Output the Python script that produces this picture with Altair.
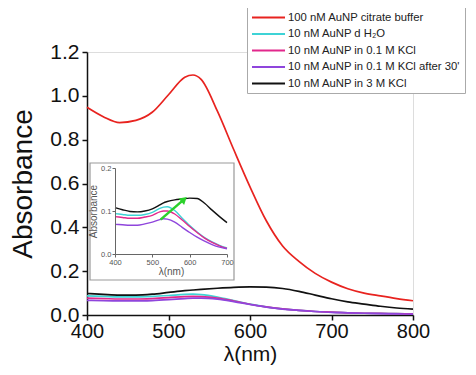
import altair as alt
import pandas as pd

# ---------------- data ----------------
series_names = [
    "100 nM AuNP citrate buffer",
    "10 nM AuNP d H\u2082O",
    "10 nM AuNP in 0.1 M KCl",
    "10 nM AuNP in 0.1 M KCl after 30'",
    "10 nM AuNP in 3 M KCl",
]
series_colors = ["#e8231f", "#3ed3d6", "#e2288c", "#8f45dc", "#111111"]

wl = [400, 420, 440, 460, 480, 500, 520, 530, 540, 560, 580, 600, 620, 640, 660, 680, 700, 720, 740, 760, 780, 800]
red = [0.948, 0.905, 0.878, 0.888, 0.925, 1.005, 1.085, 1.095, 1.075, 0.930, 0.755, 0.585, 0.430, 0.315, 0.245, 0.190, 0.150, 0.120, 0.100, 0.087, 0.075, 0.065]
cyan = [0.087, 0.085, 0.083, 0.083, 0.085, 0.089, 0.094, 0.095, 0.093, 0.082, 0.066, 0.050, 0.037, 0.028, 0.021, 0.016, 0.013, 0.010, 0.008, 0.007, 0.006, 0.005]
magenta = [0.077, 0.075, 0.073, 0.073, 0.075, 0.079, 0.084, 0.085, 0.084, 0.077, 0.064, 0.049, 0.037, 0.028, 0.021, 0.016, 0.013, 0.010, 0.008, 0.007, 0.006, 0.005]
purple = [0.067, 0.065, 0.064, 0.064, 0.066, 0.070, 0.075, 0.077, 0.077, 0.072, 0.061, 0.048, 0.036, 0.027, 0.021, 0.016, 0.012, 0.010, 0.008, 0.006, 0.005, 0.004]
black = [0.098, 0.094, 0.091, 0.091, 0.095, 0.103, 0.111, 0.114, 0.117, 0.122, 0.126, 0.128, 0.127, 0.121, 0.108, 0.091, 0.074, 0.060, 0.050, 0.040, 0.032, 0.027]

# inset (400-700 nm)
wl_in = [400, 420, 440, 460, 480, 500, 520, 530, 540, 560, 580, 600, 620, 640, 660, 680, 700]
cyan_in = [0.094, 0.092, 0.090, 0.090, 0.092, 0.097, 0.106, 0.109, 0.110, 0.101, 0.083, 0.066, 0.051, 0.038, 0.028, 0.020, 0.014]
magenta_in = [0.087, 0.085, 0.083, 0.083, 0.086, 0.090, 0.098, 0.100, 0.100, 0.093, 0.079, 0.064, 0.050, 0.037, 0.027, 0.019, 0.013]
purple_in = [0.069, 0.068, 0.067, 0.067, 0.070, 0.074, 0.080, 0.082, 0.081, 0.074, 0.062, 0.050, 0.039, 0.030, 0.022, 0.016, 0.012]
black_in = [0.108, 0.103, 0.099, 0.098, 0.100, 0.105, 0.114, 0.119, 0.122, 0.126, 0.128, 0.130, 0.129, 0.118, 0.102, 0.087, 0.073]

arrow_x = [522, 585]
arrow_y = [0.080, 0.127]

# ---------------- tables ----------------
main_vals = [red, cyan, magenta, purple, black]
rows = []
for name, vals in zip(series_names, main_vals):
    for i, (x, y) in enumerate(zip(wl, vals)):
        rows.append({"wl": x, "abs": y, "series": name, "order": i})
df_main = pd.DataFrame(rows)

in_vals = [cyan_in, magenta_in, purple_in, black_in]
rows = []
for name, vals in zip(series_names[1:], in_vals):
    for i, (x, y) in enumerate(zip(wl_in, vals)):
        rows.append({"wl": x, "abs": y, "series": name, "order": i})
df_in = pd.DataFrame(rows)

df_arrow = pd.DataFrame({"wl": arrow_x, "abs": arrow_y})
df_head = df_arrow.tail(1)

FONT = "Liberation Sans"
W, H = 326, 263

color = alt.Color(
    "series:N",
    scale=alt.Scale(domain=series_names, range=series_colors),
    legend=alt.Legend(
        title=None,
        orient="none",
        legendX=160,
        legendY=-45,
        symbolType="M-1,0H5",
        symbolSize=121,
        symbolStrokeWidth=2,
        labelFontSize=11.3,
        labelFont=FONT,
        labelColor="#222",
        labelOffset=24,
        rowPadding=4.5,
        padding=4,
        strokeColor="#aaaaaa",
        fillColor="white",
        labelLimit=400,
    ),
)

main = alt.Chart(df_main).mark_line(strokeWidth=1.7, interpolate="monotone").encode(
    x=alt.X(
        "wl:Q",
        scale=alt.Scale(domain=[400, 800], nice=False),
        axis=alt.Axis(
            values=[400, 500, 600, 700, 800], format="d", title="\u03bb(nm)",
            labelFontSize=20, titleFontSize=21, tickSize=5, labelPadding=1,
            titlePadding=2, titleFontWeight="normal", grid=False, labelFlush=False,
            domainColor="#111", tickColor="#111", labelColor="#111", titleColor="#111",
            domainWidth=1.5, tickWidth=1.5, labelFont=FONT, titleFont=FONT,
        ),
    ),
    y=alt.Y(
        "abs:Q",
        scale=alt.Scale(domain=[0, 1.2], nice=False),
        axis=alt.Axis(
            values=[0, 0.2, 0.4, 0.6, 0.8, 1.0, 1.2], format=".1f", title="Absorbance",
            labelFontSize=21, titleFontSize=28, tickSize=5, labelPadding=3,
            titlePadding=12, titleFontWeight="normal", grid=False, labelFlush=False,
            domainColor="#111", tickColor="#111", labelColor="#111", titleColor="#111",
            domainWidth=1.5, tickWidth=1.5, labelFont=FONT, titleFont=FONT,
        ),
    ),
    color=color,
    order="order:Q",
)

box = alt.Chart(pd.DataFrame({"a": [0]})).mark_rect(
    fill="white", stroke="#999999", strokeWidth=1.2
).encode(
    x=alt.value(3), x2=alt.value(147), y=alt.value(111), y2=alt.value(228)
)

x_in = alt.X(
    "wl:Q",
    scale=alt.Scale(domain=[400, 700], range=[28, 140], nice=False),
    axis=alt.Axis(
        orient="bottom", offset=-61, values=[400, 500, 600, 700], format="d",
        title="\u03bb(nm)", labelFontSize=7.5, titleFontSize=10, tickSize=3,
        labelPadding=1, titlePadding=1, titleFontWeight="normal", grid=False,
        labelFlush=False, zindex=2,
        domainColor="#666", tickColor="#666", labelColor="#555", titleColor="#555",
        labelFont=FONT, titleFont=FONT,
    ),
)
y_in = alt.Y(
    "abs:Q",
    scale=alt.Scale(domain=[0, 0.2], range=[202, 116], nice=False),
    axis=alt.Axis(
        orient="left", offset=-28, values=[0, 0.1, 0.2], format=".1f",
        title="Absorbance", labelFontSize=7.5, titleFontSize=10, tickSize=3,
        labelPadding=1, titlePadding=2, titleFontWeight="normal", grid=False,
        zindex=2,
        domainColor="#666", tickColor="#666", labelColor="#555", titleColor="#555",
        labelFont=FONT, titleFont=FONT,
    ),
)

inset_lines = alt.Chart(df_in).mark_line(strokeWidth=1.4, interpolate="monotone").encode(
    x=x_in, y=y_in,
    color=alt.Color("series:N", scale=alt.Scale(domain=series_names, range=series_colors), legend=None),
    order="order:Q",
)
arrow_line = alt.Chart(df_arrow).mark_line(color="#2bd12b", strokeWidth=2.5).encode(
    x="wl:Q", y="abs:Q"
)
arrow_head = alt.Chart(df_head).mark_point(
    shape="triangle-up", filled=True, color="#2bd12b", size=70, angle=49, opacity=1
).encode(x="wl:Q", y="abs:Q")

inset = alt.layer(inset_lines, arrow_line, arrow_head)

chart = alt.layer(main, box, inset).resolve_scale(
    x="independent", y="independent"
).properties(
    width=W, height=H,
    autosize=alt.AutoSizeParams(type="none"),
    padding={"left": 79, "top": 44, "right": 55, "bottom": 52},
).configure_view(stroke=None).configure(font=FONT)

chart.save("out.html", embed_options={"renderer": "svg", "actions": False})
